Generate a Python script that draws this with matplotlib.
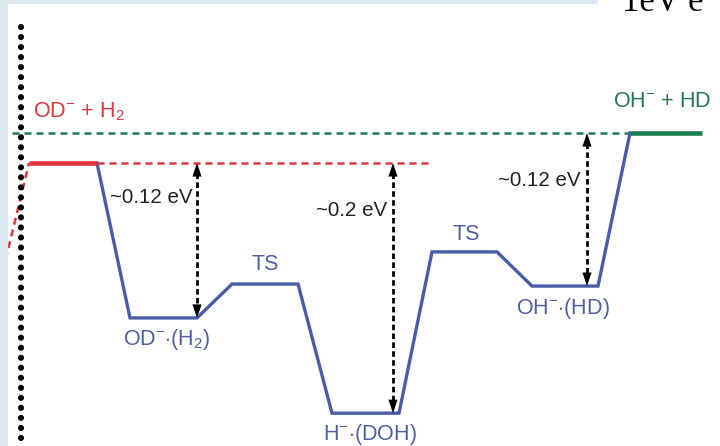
import matplotlib
matplotlib.use("Agg")
import matplotlib.pyplot as plt
from matplotlib.patches import Rectangle

plt.rcParams['font.family'] = ['Liberation Sans', 'DejaVu Sans']
plt.rcParams['mathtext.fontset'] = 'custom'
plt.rcParams['mathtext.rm'] = 'Liberation Sans'
plt.rcParams['mathtext.it'] = 'Liberation Sans'
plt.rcParams['mathtext.bf'] = 'Liberation Sans'

# ---------------- data ----------------
species = [r'OD$^{-}$ + H$_{2}$', r'OD$^{-}$$\cdot$(H$_{2}$)', 'TS', r'H$^{-}$$\cdot$(DOH)',
           'TS', r'OH$^{-}$$\cdot$(HD)', r'OH$^{-}$ + HD']
energy = [0.0, -0.122, -0.0953, -0.197, -0.070, -0.0969, 0.0236]   # eV (schematic)
rc_start = [29, 130, 232, 332, 432, 532, 630]                      # reaction coordinate
rc_end = [97, 197, 298, 399, 497, 598, 702]
incoming_rc, incoming_energy = 0, -0.0945                          # dashed red lead-in

gap_labels = ['~0.12 eV', '~0.2 eV', '~0.12 eV']
gap_rc = [197, 393, 587]
gap_top = [0.0, 0.0, 0.0236]
gap_bottom = [-0.122, -0.197, -0.0969]

# ---------------- style ----------------
BLUE = '#4a5ca8'
BLUE_T = '#4f5fa3'
RED = '#e2343b'
RED_T = '#d93a3f'
GREEN = '#1c7d50'
GREEN_T = '#23794f'
BORDER = '#dde9f1'
PX_PER_EV = 1270.0
Y0 = 163.0
W, H = 720, 446

fig = plt.figure(figsize=(W / 100, H / 100), dpi=100)
ax = fig.add_axes([0, 0, 1, 1])
ax.set_xlim(0, W)
ax.set_ylim((Y0 - H) / PX_PER_EV, Y0 / PX_PER_EV)
ax.axis('off')

def pxe(py):
    return (Y0 - py) / PX_PER_EV

# energy axis (dotted)
ax.plot([21, 21], [pxe(27), pxe(H + 5)], color='black', lw=4.4,
        dashes=(0.01, 1.63), dash_capstyle='round', solid_capstyle='round', zorder=3)

# reference dashed lines
DASH = (2.8, 2.0)
ax.plot([incoming_rc, rc_start[0]], [incoming_energy, energy[0]], color=RED, lw=1.8,
        dashes=DASH, zorder=2)
ax.plot([rc_end[0], rc_start[4]], [energy[0], energy[0]], color=RED, lw=1.8,
        dashes=DASH, zorder=2)
ax.plot([0, rc_start[-1]], [energy[-1], energy[-1]], color=GREEN, lw=1.8,
        dashes=DASH, zorder=2)

# connecting blue path
xs, ys = [], []
for s, e, en in zip(rc_start, rc_end, energy):
    xs += [s, e]
    ys += [en, en]
ax.plot(xs[1:-1], ys[1:-1], color=BLUE, lw=2.4, solid_joinstyle='miter', zorder=4)

# reactant / product levels
ax.plot([rc_start[0], rc_end[0]], [energy[0]] * 2, color=RED, lw=3.3,
        solid_capstyle='butt', zorder=5)
ax.plot([rc_start[-1], rc_end[-1]], [energy[-1]] * 2, color=GREEN, lw=3.3,
        solid_capstyle='butt', zorder=5)

# double arrows
for x, t, b in zip(gap_rc, gap_top, gap_bottom):
    ax.plot([x, x], [t - 0.008, b + 0.008], color='black', lw=2.0, dashes=(2.0, 1.2), zorder=6)
    for tip, tail in [(t, t - 0.01), (b, b + 0.01)]:
        ax.annotate('', xy=(x, tip), xytext=(x, tail),
                    arrowprops=dict(arrowstyle='-|>,head_length=0.65,head_width=0.22',
                                    mutation_scale=15, color='black', lw=0,
                                    shrinkA=0, shrinkB=0), zorder=7)

FS = 14.8
FS2 = 15.5
# gap labels
offs = [(-4, -40), (-6, -53), (-7, -53)]
for lab, x, t, (dx, dy) in zip(gap_labels, gap_rc, gap_top, offs):
    ax.annotate(lab, xy=(x, t), xytext=(dx, dy), textcoords='offset pixels',
                ha='right', va='baseline', fontsize=FS, color='#222222', zorder=8)

# species labels
cfg = [
    ('left', 4, 46, RED_T),
    ('center', 3, -27, BLUE_T),
    ('center', 0, 14, BLUE_T),
    ('center', 4, -27, BLUE_T),
    ('center', 2, 12, BLUE_T),
    ('center', -2, -28, BLUE_T),
    ('left', -17, 26, GREEN_T),
]
for sp, s, e, en, (ha, dx, dy, c) in zip(species, rc_start, rc_end, energy, cfg):
    x = s if ha == 'left' else (s + e) / 2
    ax.annotate(sp, xy=(x, en), xytext=(dx, dy), textcoords='offset pixels',
                ha=ha, va='baseline', fontsize=FS2, color=c, zorder=8)

# page border (screenshot frame)
fig.patches.append(Rectangle((0, 0), 8 / W, 1, transform=fig.transFigure,
                             facecolor=BORDER, edgecolor='none', zorder=20))
fig.patches.append(Rectangle((0, 1 - 4 / H), 598 / W, 4 / H, transform=fig.transFigure,
                             facecolor=BORDER, edgecolor='none', zorder=20))
fig.text(622 / W, 1 - 11 / H, '1eV e', fontsize=25, family=['Liberation Serif'],
         color='black', ha='left', va='baseline')

fig.savefig('out.png', dpi=100)
